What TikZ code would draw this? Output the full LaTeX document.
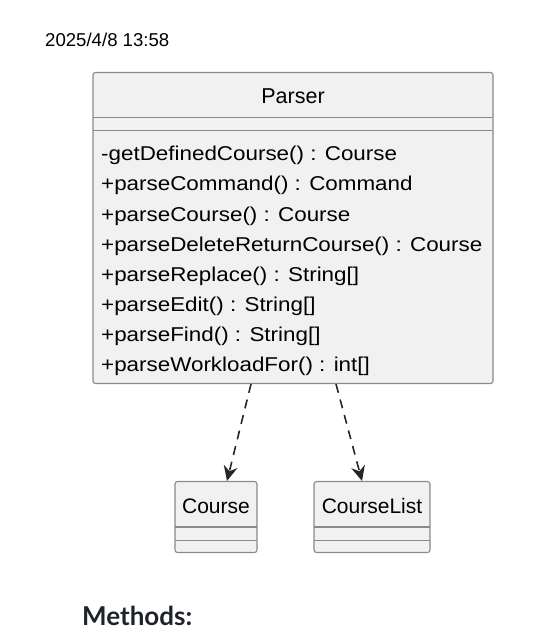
\documentclass[tikz,border=0pt]{standalone}
\usepackage{fontspec}
\setmainfont{Liberation Sans}
\newfontfamily\methfont[FakeStretch=1.12]{Liberation Sans}
\newfontfamily\headfont{Lato}[BoldFont={Lato Bold}]
\usetikzlibrary{arrows.meta}
\definecolor{umlfill}{HTML}{F1F1F1}
\definecolor{umlline}{HTML}{8A8A8A}
\definecolor{headtext}{HTML}{1F2328}

\begin{document}
\begin{tikzpicture}[x=1pt, y=-1pt,
		classbox/.style={draw=umlline, fill=umlfill, line width=1.1pt, rounded corners=2.5pt, inner sep=0pt},
		sepline/.style={draw=umlline, line width=1.1pt},
		methline/.style={anchor=base west, inner sep=0pt, font=\methfont\fontsize{20}{22}\selectfont},
		depends/.style={-{Stealth[length=15pt, width=14pt, inset=5pt]}, line width=1.6pt, dash pattern=on 9pt off 7pt, black!85}]
		\useasboundingbox (0,0) rectangle (554,644);
		
		% Fecha
		\node[anchor=base west, inner sep=0pt, font=\fontsize{18.6}{20}\selectfont] (stamp) at (45,47) {2025/4/8 13:58};
		
		% Clase Parser
		\node[classbox, minimum width=400pt, minimum height=311pt] (parser) at (293,228) {};
		\draw[sepline] (93,117.5) -- (493,117.5);
		\draw[sepline] (93,130.5) -- (493,130.5);
		\node[anchor=base, inner sep=0pt, font=\fontsize{21.5}{24}\selectfont] (ptitle) at (293,104) {Parser};
		\foreach \m [count=\i from 0] in {-getDefinedCourse() : Course, +parseCommand() : Command, +parseCourse() : Course, +parseDeleteReturnCourse() : Course, +parseReplace() : String[], +parseEdit() : String[], +parseFind() : String[], +parseWorkloadFor() : int[]}{
			\node[methline] (m\i) at (101, 161 + 30*\i) {\m};}
		
		% Clases Course y CourseList
		\node[classbox, minimum width=82pt, minimum height=71pt] (course) at (216,517) {};
		\draw[sepline] (175,527) -- (257,527);
		\draw[sepline] (175,540.5) -- (257,540.5);
		\node[anchor=base, inner sep=0pt, font=\fontsize{21}{24}\selectfont] (ctitle) at (216,513.5) {Course};
		
		\node[classbox, minimum width=116pt, minimum height=71pt] (courselist) at (372,517) {};
		\draw[sepline] (314,527) -- (430,527);
		\draw[sepline] (314,540.5) -- (430,540.5);
		\node[anchor=base, inner sep=0pt, font=\fontsize{21}{24}\selectfont] (cltitle) at (372,513.5) {CourseList};
		
		% Dependencias
		\coordinate (d1) at ([xshift=-42pt]parser.south);
		\coordinate (d2) at ([xshift=43pt]parser.south);
		\draw[depends] (d1) -- ([xshift=11pt]course.north);
		\draw[depends] (d2) -- ([xshift=-10pt]courselist.north);
		
		\node[anchor=base west, inner sep=0pt, text=headtext, font=\headfont\bfseries\fontsize{26}{30}\selectfont] (methods) at (82,625.5) {Methods:};
	\end{tikzpicture}
\end{document}
